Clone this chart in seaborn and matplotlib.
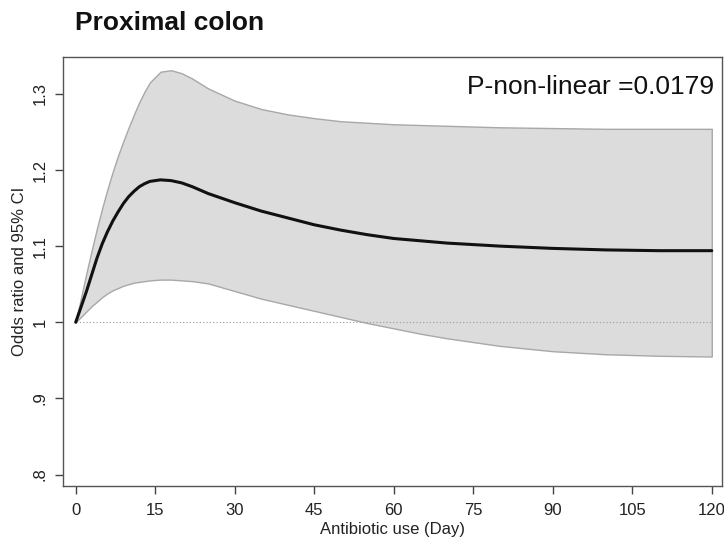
import matplotlib
matplotlib.use("Agg")
import matplotlib.pyplot as plt
import seaborn as sns
import pandas as pd

days = [0, 1, 2, 3, 4, 5, 6, 7, 8, 9, 10, 11, 12, 13, 14, 16, 18, 20, 22, 25,
        30, 35, 40, 45, 50, 55, 60, 65, 70, 80, 90, 100, 110, 120]
or_mean = [1.0, 1.02, 1.04, 1.062, 1.084, 1.103, 1.119, 1.133, 1.145, 1.156, 1.165, 1.172, 1.178, 1.182,
           1.185, 1.187, 1.186, 1.183, 1.178, 1.169,
           1.157, 1.146, 1.137, 1.128, 1.121, 1.115, 1.110, 1.107, 1.104, 1.100, 1.097, 1.095, 1.094, 1.094]
ci_high = [1.0, 1.032, 1.064, 1.094, 1.123, 1.150, 1.175, 1.198, 1.219, 1.238, 1.256, 1.273, 1.289, 1.303,
           1.315, 1.329, 1.331, 1.327, 1.320, 1.307,
           1.291, 1.280, 1.273, 1.268, 1.264, 1.262, 1.260, 1.259, 1.258, 1.256, 1.255, 1.254, 1.254, 1.254]
ci_low = [1.0, 1.007, 1.014, 1.021, 1.027, 1.033, 1.038, 1.042, 1.045, 1.048, 1.050, 1.052, 1.053, 1.054,
          1.055, 1.056, 1.056, 1.055, 1.054, 1.051,
          1.041, 1.031, 1.023, 1.015, 1.007, 0.999, 0.992, 0.985, 0.979, 0.969, 0.962, 0.958, 0.956, 0.955]
x_ticks = [0, 15, 30, 45, 60, 75, 90, 105, 120]
y_ticks = [0.8, 0.9, 1.0, 1.1, 1.2, 1.3]
y_tick_labels = [".8", ".9", "1", "1.1", "1.2", "1.3"]
title = "Proximal colon"
p_text = "P-non-linear =0.0179"

df = pd.DataFrame({"day": days, "mean": or_mean, "low": ci_low, "high": ci_high})

sns.set_style("ticks")
plt.rcParams["font.family"] = ["Liberation Sans", "DejaVu Sans"]

fig = plt.figure(figsize=(7.24, 5.4), dpi=100)
ax = fig.add_axes([0.087, 0.1, 0.910, 0.794])

ax.fill_between(df["day"], df["low"], df["high"], color="#dcdcdc", edgecolor="#a8a8a8", linewidth=1.0, zorder=1)
ax.plot([0, 120], [1, 1], linestyle=(0, (1, 2)), color="#9a9a9a", linewidth=0.8, zorder=2)
sns.lineplot(data=df, x="day", y="mean", ax=ax, color="#111111", linewidth=2.2, zorder=3)

ax.set_xlim(-2.4, 121.9)
ax.set_ylim(0.785, 1.348)
ax.set_xticks(x_ticks)
ax.set_xticklabels([str(t) for t in x_ticks], fontsize=12, color="#222222")
ax.set_yticks(y_ticks)
ax.set_yticklabels(y_tick_labels, rotation=90, va="center", fontsize=12, color="#222222")
ax.tick_params(axis="both", direction="out", length=6, width=1, color="#444444")
ax.tick_params(axis="x", pad=6)
ax.tick_params(axis="y", pad=5)
for s in ax.spines.values():
    s.set_color("#555555")
    s.set_linewidth(1.0)

ax.set_xlabel("Antibiotic use (Day)", fontsize=12, color="#222222", labelpad=3)
ax.set_ylabel("Odds ratio and 95% CI", fontsize=12, color="#222222", labelpad=4)

ax.text(0.988, 0.93, p_text, transform=ax.transAxes, ha="right", va="center", fontsize=19, color="#111111")
fig.text(0.104, 0.958, title, ha="left", va="center", fontsize=19, fontweight="bold", color="#111111")

fig.savefig("out.png", dpi=100, facecolor="white")
